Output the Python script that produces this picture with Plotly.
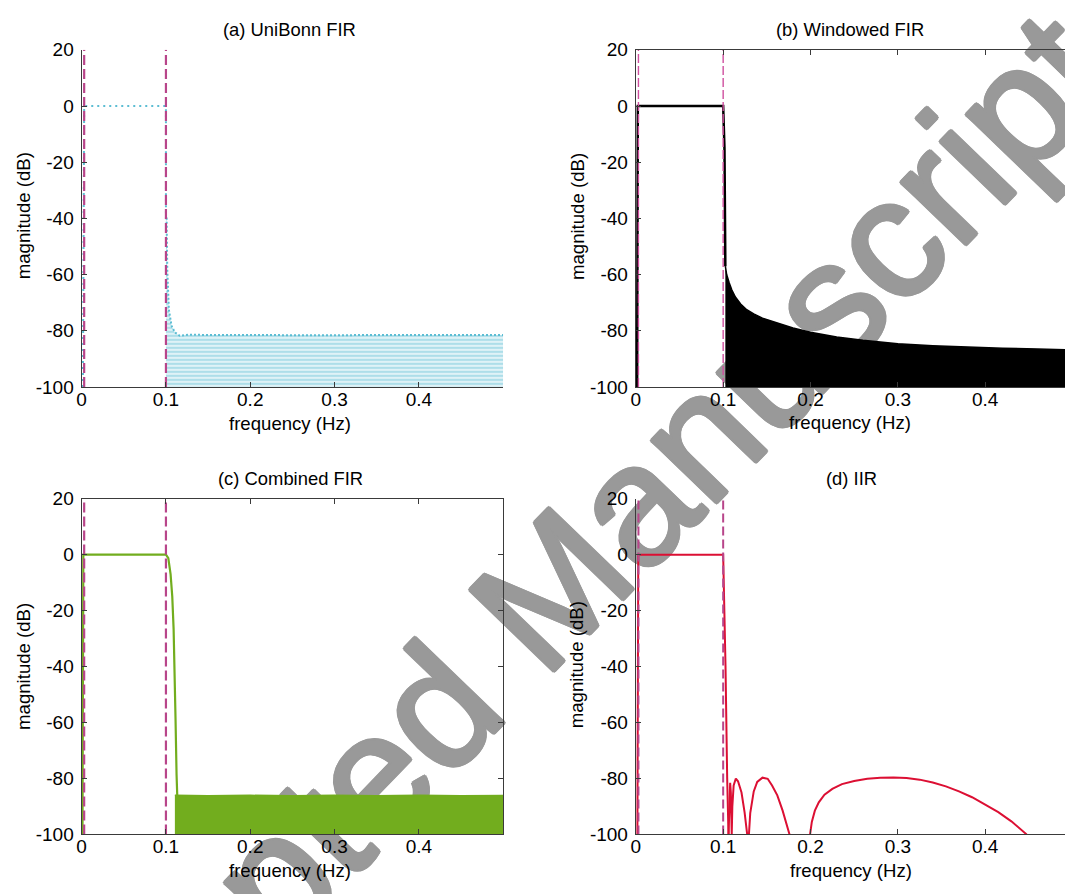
import plotly.graph_objects as go

W, H = 1065, 894
FONT = "Liberation Sans, Arial, Helvetica, sans-serif"

# ---------------- data ----------------
Y_MIN, Y_MAX = -100, 20
x_ticks = [0, 0.1, 0.2, 0.3, 0.4]
x_tick_labels = ["0", "0.1", "0.2", "0.3", "0.4"]
y_ticks = [20, 0, -20, -40, -60, -80, -100]
y_tick_labels = ["20", "0", "-20", "-40", "-60", "-80", "-100"]
band_edges = [0.003, 0.1]

titles = ["(a) UniBonn FIR", "(b) Windowed FIR", "(c) Combined FIR", "(d) IIR"]
x_title = "frequency (Hz)"
y_title = "magnitude (dB)"
watermark = "Accepted Manuscript"

# (a) UniBonn FIR
a_pass_f = [0.0015, 0.002, 0.0025, 0.003, 0.1, 0.1, 0.1]
a_pass_db = [-100, -60, -20, 0, 0, -20, -40]
a_stop_f = [0.1, 0.1008, 0.1016, 0.1035, 0.1067, 0.1106, 0.1165, 0.1264, 0.15,
            0.2, 0.25, 0.3, 0.35, 0.4, 0.45, 0.5]
a_stop_db = [-40, -40, -58.5, -72.5, -78.3, -80.6, -81.8, -81.4, -81.5,
             -81.6, -81.5, -81.6, -81.5, -81.6, -81.5, -81.5]

# (b) Windowed FIR
b_pass_f = [0.0015, 0.0019, 0.0023, 0.1, 0.1015, 0.1025]
b_pass_db = [-100, -50, 0, 0, -15, -57]
b_stop_f = [0.1025, 0.104, 0.107, 0.11, 0.114, 0.12, 0.127, 0.135, 0.145, 0.16,
            0.18, 0.2, 0.23, 0.26, 0.3, 0.34, 0.38, 0.42, 0.46, 0.5]
b_stop_db = [-57, -60, -63, -65.5, -68, -70.5, -72.5, -74, -75.5, -77,
             -79, -80.5, -82.2, -83.4, -84.6, -85.3, -85.8, -86.2, -86.5, -86.8]

# (c) Combined FIR
c_pass_f = [0.001, 0.0015, 0.002, 0.1, 0.1028, 0.1055, 0.1075, 0.1091, 0.1106,
            0.1114, 0.1126, 0.1134]
c_pass_db = [-100, -50, 0, 0, -1.2, -6.9, -15, -26.5, -43.9, -59, -78.6, -86]
c_stop_f = [0.1106, 0.15, 0.2, 0.25, 0.3, 0.35, 0.4, 0.45, 0.5]
c_stop_db = [-86, -86.2, -86.0, -86.2, -86.0, -86.2, -86.0, -86.2, -86.1]

# (d) IIR  (None = response below the axis floor)
d_f = [0.0018, 0.0022, 0.0026, 0.0028, 0.1, 0.1015, 0.1027, 0.1046, 0.1061,
       None,
       0.1062, 0.1072, 0.108, 0.1088, 0.1098,
       0.1105, 0.112, 0.1145, 0.117, 0.121, 0.1245, 0.1275,
       None,
       0.1295, 0.131, 0.135, 0.139, 0.145, 0.151, 0.156, 0.162, 0.168, 0.1735, 0.176,
       None,
       0.1995, 0.2015, 0.205, 0.2095, 0.216, 0.225, 0.236, 0.25, 0.265, 0.28,
       0.295, 0.31, 0.325, 0.34, 0.355, 0.37, 0.385, 0.4, 0.415, 0.43, 0.44, 0.4475]
d_db = [-100, -60, -10, 0, 0, -20, -40, -80, -100,
        None,
        -100, -85, -81.5, -85, -100,
        -90, -82.5, -80, -81, -85, -92, -100,
        None,
        -100, -92.4, -84.6, -81.2, -79.7, -80.1, -82.5, -86, -91.4, -97.5, -100,
        None,
        -100, -95.5, -91.5, -88.5, -85.8, -83.7, -82.0, -80.9, -80.1, -79.7,
        -79.6, -79.8, -80.4, -81.4, -82.8, -84.6, -86.7, -89.2, -92.0, -95.3, -97.8, -100]

# ---------------- styles ----------------
CYAN = "#5cbdd3"
MAG = "#b8458a"
MAG_B = "#cf4f9e"
GREEN = "#72ad1e"
RED = "#dc0f33"
AX = "#3a3a3a"
WM = "#999999"

fig = go.Figure()

LX = [77 / W, 500.5 / W]
RX = [633.8 / W, 1.0]
TY = [1 - 386 / H, 1 - 40.8 / H]
BY = [1 - 844.3 / H, 1 - 500.5 / H]
R_MAX = (1065 - 633.8) / 877.5

panels = [
    ("x", "y", LX, TY, [0, 0.5], False, False),
    ("x2", "y2", RX, TY, [0, R_MAX], "ticks", False),
    ("x3", "y3", LX, BY, [0, 0.5], "ticks", "ticks"),
    ("x4", "y4", RX, BY, [0, R_MAX], False, False),
]

layout = dict(
    width=W, height=H, margin=dict(l=0, r=0, t=0, b=0),
    paper_bgcolor="white", plot_bgcolor="rgba(0,0,0,0)",
    showlegend=False, font=dict(family=FONT, color="black"),
)
for xa, ya, xd, yd, xr, xmir, ymir in panels:
    xk = "xaxis" + xa[1:]
    yk = "yaxis" + ya[1:]
    layout[xk] = dict(domain=xd, range=xr, anchor=ya, showline=True, linecolor=AX,
                      linewidth=1.2, mirror=xmir, ticks="inside", ticklen=5,
                      tickcolor=AX, tickwidth=1, tickvals=x_ticks, ticktext=x_tick_labels,
                      ticklabelstandoff=-5,
                      tickfont=dict(size=19, family=FONT, color="black"),
                      showgrid=False, zeroline=False, fixedrange=True)
    layout[yk] = dict(domain=yd, range=[Y_MIN, Y_MAX], anchor=xa, showline=True,
                      linecolor=AX, linewidth=1.2, mirror=ymir, ticks="inside",
                      ticklen=5, tickcolor=AX, tickwidth=1, tickvals=y_ticks,
                      ticktext=y_tick_labels, ticklabelstandoff=3,
                      tickfont=dict(size=19, family=FONT, color="black"),
                      showgrid=False, zeroline=False, fixedrange=True)
fig.update_layout(**layout)


def edges(xa, ya, color, width, dash):
    for e in band_edges:
        fig.add_trace(go.Scatter(x=[e, e], y=[Y_MIN, Y_MAX], mode="lines",
                                 line=dict(color=color, width=width, dash=dash),
                                 xaxis=xa, yaxis=ya, hoverinfo="skip"))


def floor(xa, ya, fs):
    fig.add_trace(go.Scatter(x=fs, y=[Y_MIN] * len(fs), mode="lines",
                             line=dict(width=0), xaxis=xa, yaxis=ya, hoverinfo="skip"))


# (a)
floor("x", "y", a_stop_f)
fig.add_trace(go.Scatter(x=a_stop_f, y=a_stop_db, mode="lines", xaxis="x", yaxis="y",
                         line=dict(color=CYAN, width=2, dash="2px,2px"), fill="tonexty",
                         fillpattern=dict(shape="-", fgcolor=CYAN, bgcolor="white",
                                          size=4, solidity=0.7)))
fig.add_trace(go.Scatter(x=a_pass_f, y=a_pass_db, mode="lines", xaxis="x", yaxis="y",
                         line=dict(color=CYAN, width=2, dash="2px,4px")))
edges("x", "y", MAG, 2.2, "10px,4px")

# (b)
floor("x2", "y2", b_stop_f)
fig.add_trace(go.Scatter(x=b_stop_f, y=b_stop_db, mode="lines", xaxis="x2", yaxis="y2",
                         line=dict(color="black", width=1.5), fill="tonexty",
                         fillcolor="black"))
fig.add_trace(go.Scatter(x=b_pass_f, y=b_pass_db, mode="lines", xaxis="x2", yaxis="y2",
                         line=dict(color="black", width=2.5)))
edges("x2", "y2", MAG_B, 1.4, "9px,3px")

# (c)
floor("x3", "y3", c_stop_f)
fig.add_trace(go.Scatter(x=c_stop_f, y=c_stop_db, mode="lines", xaxis="x3", yaxis="y3",
                         line=dict(color=GREEN, width=1.5), fill="tonexty",
                         fillcolor=GREEN))
fig.add_trace(go.Scatter(x=c_pass_f, y=c_pass_db, mode="lines", xaxis="x3", yaxis="y3",
                         line=dict(color=GREEN, width=2.2)))
edges("x3", "y3", MAG, 2.2, "10px,4px")

# (d)
fig.add_trace(go.Scatter(x=d_f, y=d_db, mode="lines", xaxis="x4", yaxis="y4",
                         line=dict(color=RED, width=2), connectgaps=False))
edges("x4", "y4", MAG, 2.0, "9px,4px")

# ---------------- texts ----------------
ann = []
title_pos = [(285.7, 20), (849.3, 20), (286.7, 479.3), (850, 479.3)]
for t, (px, py) in zip(titles, title_pos):
    ann.append(dict(text=t, x=px / W, y=1 - py / H, xref="paper", yref="paper",
                    showarrow=False, xanchor="center", yanchor="middle",
                    font=dict(size=18.4, family=FONT, color="black")))
xt_pos = [(286.7, 423.3), (849.3, 422), (286.7, 881.7), (850, 881.7)]
for px, py in xt_pos:
    ann.append(dict(text=x_title, x=px / W, y=1 - py / H, xref="paper", yref="paper",
                    showarrow=False, xanchor="center", yanchor="middle",
                    font=dict(size=18.6, family=FONT, color="black")))
yt_pos = [(18.3, 211), (575, 211.7), (18.3, 672.5), (575, 670.7)]
for px, py in yt_pos:
    ann.append(dict(text=y_title, x=px / W, y=1 - py / H, xref="paper", yref="paper",
                    showarrow=False, xanchor="center", yanchor="middle", textangle=-90,
                    font=dict(size=18.6, family=FONT, color="black")))
fig.update_layout(annotations=ann)

# watermark (behind the data)
thick = ", ".join(f"{dx}px {dy}px 0 {WM}" for dx, dy in
                  [(2, 0), (-2, 0), (0, 2), (0, -2), (1.5, 1.5), (-1.5, -1.5),
                   (1.5, -1.5), (-1.5, 1.5)])
cx, cy = 514 / W, 1 - 606 / H
fig.add_shape(type="rect", xref="paper", yref="paper", x0=cx - 0.005, x1=cx + 0.005,
              y0=cy - 0.005, y1=cy + 0.005, line=dict(width=0),
              fillcolor="rgba(0,0,0,0)", layer="below",
              label=dict(text=watermark, textangle=-46, textposition="middle center",
                         font=dict(size=170, family=FONT, color=WM, shadow=thick)))

fig.write_html("out.html")
